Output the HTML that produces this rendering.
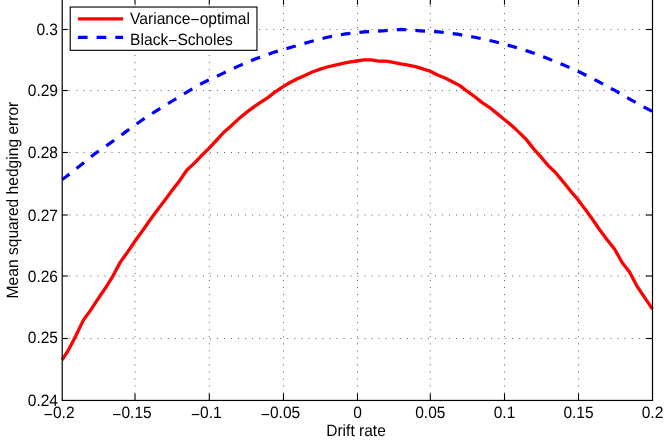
<!DOCTYPE html>
<html><head><meta charset="utf-8"><title>Hedging error</title>
<style>html,body{margin:0;padding:0;background:#fff;}body{width:664px;height:443px;overflow:hidden;}svg{display:block;}text{font-family:"Liberation Sans",sans-serif;text-rendering:geometricPrecision;font-size:16.4px;fill:#000;}</style></head><body>
<svg width="664" height="443" viewBox="0 0 664 443">
<rect x="0" y="0" width="664" height="443" fill="#fff"/>
<g stroke="#000" stroke-width="0.9" stroke-dasharray="1 6.03" fill="none" opacity="0.7"><line x1="135.00" y1="393.52" x2="135.00" y2="-1.60"/><line x1="209.30" y1="393.52" x2="209.30" y2="-1.60"/><line x1="283.50" y1="393.52" x2="283.50" y2="-1.60"/><line x1="357.50" y1="393.52" x2="357.50" y2="-1.60"/><line x1="430.30" y1="393.52" x2="430.30" y2="-1.60"/><line x1="504.50" y1="393.52" x2="504.50" y2="-1.60"/><line x1="578.50" y1="393.52" x2="578.50" y2="-1.60"/><line x1="69.33" y1="338.50" x2="652.50" y2="338.50"/><line x1="69.33" y1="276.00" x2="652.50" y2="276.00"/><line x1="69.33" y1="215.00" x2="652.50" y2="215.00"/><line x1="69.33" y1="152.50" x2="652.50" y2="152.50"/><line x1="69.33" y1="90.50" x2="652.50" y2="90.50"/><line x1="69.33" y1="29.50" x2="652.50" y2="29.50"/></g>
<path d="M62.2 179.5 L66.0 176.8 L80.3 165.6 L95.0 153.6 L110.5 142.9 L125.6 131.9 L140.7 121.0 L156.3 110.8 L172.2 101.0 L188.1 91.3 L204.6 82.0 L221.4 74.1 L238.4 66.1 L255.7 58.8 L273.1 52.5 L291.1 47.3 L309.1 42.0 L327.3 37.2 L345.7 33.9 L364.2 31.9 L382.9 30.8 L401.5 29.4 L420.0 30.8 L438.9 31.9 L457.5 34.2 L476.0 37.5 L494.2 41.5 L512.2 46.4 L530.2 51.9 L547.8 58.6 L565.1 65.6 L582.1 73.3 L598.9 81.8 L615.3 90.6 L631.5 100.2 L648.0 109.2 L652.5 111.7" fill="none" stroke="#0000ff" stroke-width="3.2" stroke-dasharray="9.7 9.02" stroke-dashoffset="0.71" stroke-linejoin="round"/>
<path d="M62.2 359.8 L68.7 349.6 L76.1 335.3 L83.4 320.1 L90.8 309.9 L98.2 298.7 L105.6 287.8 L113.0 275.8 L120.3 262.1 L127.7 251.9 L135.1 241.0 L142.5 230.8 L149.8 220.2 L157.2 210.2 L164.6 200.6 L172.0 190.6 L179.4 181.0 L186.7 170.3 L194.1 163.4 L201.5 155.6 L208.9 148.3 L216.2 140.5 L223.6 132.5 L231.0 125.9 L238.4 119.1 L245.8 112.9 L253.2 107.4 L260.5 102.4 L267.9 97.6 L275.3 91.8 L282.7 86.8 L290.0 82.5 L297.4 78.7 L304.8 75.5 L312.2 72.0 L319.6 69.4 L326.9 67.0 L334.3 65.4 L341.7 63.7 L349.1 62.1 L356.4 61.0 L363.8 59.8 L371.2 59.8 L378.6 61.2 L386.0 61.2 L393.3 62.4 L400.7 63.9 L408.1 65.2 L415.5 66.6 L422.9 68.9 L430.2 71.2 L437.6 75.0 L445.0 78.1 L452.4 81.8 L459.8 85.6 L467.1 91.2 L474.5 96.5 L481.9 102.4 L489.3 107.3 L496.6 113.1 L504.0 119.2 L511.4 125.3 L518.8 132.1 L526.2 139.4 L533.5 148.6 L540.9 156.9 L548.3 165.6 L555.7 172.7 L563.0 181.6 L570.4 190.8 L577.8 199.4 L585.2 209.3 L592.6 219.5 L600.0 230.2 L607.3 239.9 L614.7 249.3 L622.1 262.5 L629.5 272.0 L636.8 285.8 L644.2 296.8 L652.5 309.2" fill="none" stroke="#ff0000" stroke-width="3.3" stroke-linejoin="round"/>
<rect x="62.20" y="-1.60" width="590.30" height="402.05" fill="none" stroke="#000" stroke-width="1.2"/>
<g stroke="#000" stroke-width="1.1"><line x1="135.00" y1="400.45" x2="135.00" y2="393.45"/><line x1="135.00" y1="-1.60" x2="135.00" y2="4.70"/><line x1="209.30" y1="400.45" x2="209.30" y2="393.45"/><line x1="209.30" y1="-1.60" x2="209.30" y2="4.70"/><line x1="283.50" y1="400.45" x2="283.50" y2="393.45"/><line x1="283.50" y1="-1.60" x2="283.50" y2="4.70"/><line x1="357.50" y1="400.45" x2="357.50" y2="393.45"/><line x1="357.50" y1="-1.60" x2="357.50" y2="4.70"/><line x1="430.30" y1="400.45" x2="430.30" y2="393.45"/><line x1="430.30" y1="-1.60" x2="430.30" y2="4.70"/><line x1="504.50" y1="400.45" x2="504.50" y2="393.45"/><line x1="504.50" y1="-1.60" x2="504.50" y2="4.70"/><line x1="578.50" y1="400.45" x2="578.50" y2="393.45"/><line x1="578.50" y1="-1.60" x2="578.50" y2="4.70"/><line x1="62.20" y1="338.50" x2="67.80" y2="338.50"/><line x1="652.50" y1="338.50" x2="645.90" y2="338.50"/><line x1="62.20" y1="276.00" x2="67.80" y2="276.00"/><line x1="652.50" y1="276.00" x2="645.90" y2="276.00"/><line x1="62.20" y1="215.00" x2="67.80" y2="215.00"/><line x1="652.50" y1="215.00" x2="645.90" y2="215.00"/><line x1="62.20" y1="152.50" x2="67.80" y2="152.50"/><line x1="652.50" y1="152.50" x2="645.90" y2="152.50"/><line x1="62.20" y1="90.50" x2="67.80" y2="90.50"/><line x1="652.50" y1="90.50" x2="645.90" y2="90.50"/><line x1="62.20" y1="29.50" x2="67.80" y2="29.50"/><line x1="652.50" y1="29.50" x2="645.90" y2="29.50"/></g>
<g opacity="0.995" style="will-change:transform">
<text transform="translate(58.00,405.65) scale(0.948,1)" text-anchor="end">0.24</text>
<text transform="translate(58.00,343.30) scale(0.948,1)" text-anchor="end">0.25</text>
<text transform="translate(58.00,281.65) scale(0.948,1)" text-anchor="end">0.26</text>
<text transform="translate(58.00,220.60) scale(0.948,1)" text-anchor="end">0.27</text>
<text transform="translate(58.00,158.05) scale(0.948,1)" text-anchor="end">0.28</text>
<text transform="translate(58.00,95.50) scale(0.948,1)" text-anchor="end">0.29</text>
<text transform="translate(58.00,35.00) scale(0.948,1)" text-anchor="end">0.3</text>
<text transform="translate(59.20,418.30) scale(0.948,1)" text-anchor="middle"><tspan dy="1.8">−</tspan><tspan dy="-1.8">0.2</tspan></text>
<text transform="translate(132.00,418.30) scale(0.948,1)" text-anchor="middle"><tspan dy="1.8">−</tspan><tspan dy="-1.8">0.15</tspan></text>
<text transform="translate(206.30,418.30) scale(0.948,1)" text-anchor="middle"><tspan dy="1.8">−</tspan><tspan dy="-1.8">0.1</tspan></text>
<text transform="translate(280.50,418.30) scale(0.948,1)" text-anchor="middle"><tspan dy="1.8">−</tspan><tspan dy="-1.8">0.05</tspan></text>
<text transform="translate(357.50,418.30) scale(0.948,1)" text-anchor="middle">0</text>
<text transform="translate(430.30,418.30) scale(0.948,1)" text-anchor="middle">0.05</text>
<text transform="translate(504.50,418.30) scale(0.948,1)" text-anchor="middle">0.1</text>
<text transform="translate(578.50,418.30) scale(0.948,1)" text-anchor="middle">0.15</text>
<text transform="translate(652.50,418.30) scale(0.948,1)" text-anchor="middle">0.2</text>
<text transform="translate(356.00,436.10) scale(0.948,1)" text-anchor="middle">Drift rate</text>
<text transform="translate(18.00,200.05) rotate(-90) scale(0.951,1)" text-anchor="middle">Mean squared hedging error</text>
</g>
<rect x="70.25" y="7.05" width="186.7" height="43.3" fill="#fff" stroke="#111" stroke-width="1.2"/>
<line x1="77.9" y1="18.8" x2="123.1" y2="18.8" stroke="#ff0000" stroke-width="3.3"/>
<line x1="77.9" y1="37.35" x2="123.1" y2="37.35" stroke="#0000ff" stroke-width="3.3" stroke-dasharray="9.7 9"/>
<g opacity="0.995" style="will-change:transform">
<text transform="translate(130.10,23.50) scale(0.952,1)" text-anchor="start">Variance<tspan dy="1">−</tspan><tspan dy="-1">optimal</tspan></text>
<text transform="translate(130.10,45.30) scale(0.952,1)" text-anchor="start">Black<tspan dy="1">−</tspan><tspan dy="-1">Scholes</tspan></text>
</g>
</svg></body></html>
